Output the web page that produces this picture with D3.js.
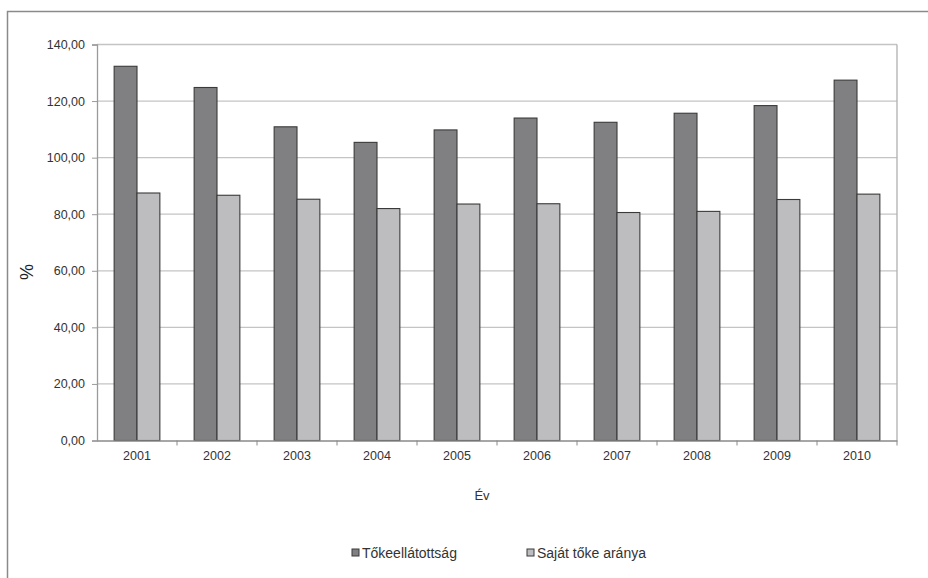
<!DOCTYPE html>
<html><head><meta charset="utf-8">
<script src="https://cdn.jsdelivr.net/npm/d3@7"></script>
<style>body{margin:0;background:#fff}svg{display:block}text{font-family:"Liberation Sans",Arial,sans-serif}</style>
</head><body>
<svg id="c" width="928" height="578"></svg>
<script>
const years = ["2001","2002","2003","2004","2005","2006","2007","2008","2009","2010"];
const tokeellatottsag = [132.3, 124.8, 110.9, 105.4, 109.8, 114.0, 112.5, 115.7, 118.4, 127.4];
const sajatToke = [87.5, 86.7, 85.3, 82.0, 83.6, 83.7, 80.6, 81.0, 85.2, 87.1];
const seriesNames = ["Tőkeellátottság", "Saját tőke aránya"];
const yTicks = [0, 20, 40, 60, 80, 100, 120, 140];

const svg = d3.select("#c");
const L = 97, R = 897, T = 44.5, B = 440.5;
const colors = ["#808083", "#bdbdbf"];

// outer frame (only top/left visible)
svg.append("path").attr("d", "M7.5,600 V11.5 H940").attr("fill","none").attr("stroke","#8a8a8a").attr("stroke-width",1.5);

const x = d3.scaleBand().domain(years).range([L, R]).paddingInner(0).paddingOuter(0);
const y = d3.scaleLinear().domain([0, 140]).range([B, T]);
const bw = x.bandwidth() / 3.5;

// gridlines
svg.append("g").selectAll("line").data(yTicks.filter(d => d > 0)).join("line")
  .attr("x1", L).attr("x2", R).attr("y1", d => y(d)).attr("y2", d => y(d))
  .attr("stroke", "#c4c4c4").attr("stroke-width", 1.3);
// right border
svg.append("line").attr("x1", R).attr("x2", R).attr("y1", T).attr("y2", B).attr("stroke","#b0b0b0").attr("stroke-width",1.3);

// bars
const data = [tokeellatottsag, sajatToke];
data.forEach((vals, si) => {
  svg.append("g").selectAll("rect").data(vals).join("rect")
    .attr("x", (d, i) => x(years[i]) + x.bandwidth()/2 - bw + si*bw)
    .attr("y", d => y(d))
    .attr("width", bw)
    .attr("height", d => B - y(d))
    .attr("fill", colors[si])
    .attr("stroke", "#3a3a3a").attr("stroke-width", 1.1);
});

// y axis
const fmt = d => d3.format(".2f")(d).replace(".", ",");
const ya = svg.append("g").attr("transform", `translate(${L},0)`)
  .call(d3.axisLeft(y).tickValues(yTicks).tickSize(5).tickPadding(7).tickFormat(fmt));
ya.select(".domain").attr("stroke", "#9a9a9a").attr("stroke-width", 1.3);
ya.selectAll(".tick line").attr("stroke", "#9a9a9a");
ya.selectAll("text").attr("font-size", 12.5).attr("fill", "#333").attr("font-family", "Liberation Sans, Arial, sans-serif");

// x axis
const xa = svg.append("g").attr("transform", `translate(0,${B})`)
  .call(d3.axisBottom(x).tickSize(0).tickPadding(11));
xa.select(".domain").attr("stroke", "#8a8a8a").attr("stroke-width", 1.3);
xa.selectAll("text").attr("font-size", 12.5).attr("fill", "#333").attr("font-family", "Liberation Sans, Arial, sans-serif");
// category boundary ticks
svg.append("g").selectAll("line").data(years.slice(1).concat(["end"])).join("line")
  .attr("x1", (d, i) => i < years.length - 1 ? x(d) : R)
  .attr("x2", (d, i) => i < years.length - 1 ? x(d) : R)
  .attr("y1", B).attr("y2", B + 5).attr("stroke", "#8a8a8a");

// axis titles
svg.append("text").attr("x", 482).attr("y", 500).attr("text-anchor","middle").attr("font-size", 13).attr("fill","#333").text("Év");
svg.append("text").attr("transform", "translate(33,272) rotate(-90)").attr("text-anchor","middle").attr("font-size", 18).attr("fill","#222").text("%");

// legend
const lg = [{x: 352, name: seriesNames[0], c: colors[0]}, {x: 527, name: seriesNames[1], c: colors[1]}];
lg.forEach(d => {
  svg.append("rect").attr("x", d.x).attr("y", 549).attr("width", 7).attr("height", 7)
    .attr("fill", d.c).attr("stroke", "#3a3a3a").attr("stroke-width", 1);
  svg.append("text").attr("x", d.x + 10).attr("y", 557.5).attr("font-size", 14).attr("fill", "#333").text(d.name);
});
</script>
</body></html>
